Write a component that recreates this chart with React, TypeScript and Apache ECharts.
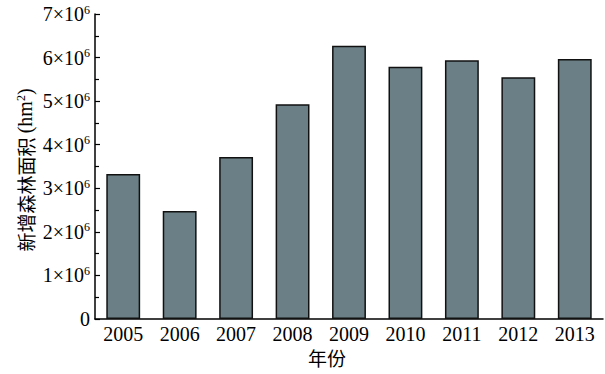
import React, { useEffect, useRef } from "react";
import * as echarts from "echarts";

const years = ["2005", "2006", "2007", "2008", "2009", "2010", "2011", "2012", "2013"];
const forestArea = [3.33e6, 2.48e6, 3.72e6, 4.93e6, 6.27e6, 5.79e6, 5.94e6, 5.55e6, 5.97e6];
const yAxisTitleCn = "新增森林面积";
const yAxisTitleUnit = "(hm";
const xAxisTitle = "年份";

export default function App() {
  const ref = useRef<HTMLDivElement>(null);
  useEffect(() => {
    if (!ref.current) return;
    const chart = echarts.init(ref.current, null, { renderer: "svg" });
    const serif = "'Liberation Serif', 'DejaVu Serif', serif";
    const cjk = "'Noto Sans CJK SC', sans-serif";
    chart.setOption({
      animation: false,
      backgroundColor: "#ffffff",
      grid: { left: 95, right: 2, top: 14, bottom: 55, containLabel: false },
      xAxis: {
        type: "category",
        data: years,
        axisLine: { show: true, lineStyle: { color: "#000", width: 1.5 } },
        axisTick: { show: false },
        axisLabel: { color: "#000", fontFamily: serif, fontSize: 20, margin: 5 },
        splitLine: { show: false },
      },
      yAxis: {
        type: "value",
        min: 0,
        max: 7e6,
        interval: 1e6,
        axisLine: { show: true, lineStyle: { color: "#000", width: 1.5 } },
        axisTick: { show: true, inside: true, length: 5, lineStyle: { color: "#000", width: 1.2 } },
        minorTick: { show: true, splitNumber: 2, length: 4, lineStyle: { color: "#000", width: 1.2 } },
        splitLine: { show: false },
        axisLabel: {
          margin: 5,
          color: "#000",
          fontFamily: serif,
          formatter: (v: number) => {
            if (v === 0) return "{a|0}";
            return "{a|" + Math.round(v / 1e6) + "×10}{s|6}";
          },
          rich: {
            a: { fontFamily: serif, fontSize: 20, color: "#000" },
            s: { fontFamily: serif, fontSize: 12, color: "#000", padding: [0, 0, 9, 0] },
          },
        },
      },
      series: [
        {
          type: "bar",
          data: forestArea,
          barCategoryGap: "40%",
          itemStyle: { color: "#6b8086", borderColor: "#111", borderWidth: 1.5 },
        },
      ],
      graphic: [
        {
          type: "text",
          x: 25,
          y: 170,
          rotation: Math.PI / 2,
          style: {
            text: "{c|" + yAxisTitleCn + " }{u|" + yAxisTitleUnit + "}{s|2}{u|)}",
            fill: "#000",
            align: "center",
            verticalAlign: "middle",
            rich: {
              c: { fontFamily: cjk, fontSize: 19, fill: "#000" },
              u: { fontFamily: serif, fontSize: 20, fill: "#000" },
              s: { fontFamily: serif, fontSize: 12, fill: "#000", padding: [0, 0, 9, 0] },
            },
          },
        },
        {
          type: "text",
          x: 327,
          y: 357,
          style: {
            text: xAxisTitle,
            font: "19px " + cjk,
            fill: "#000",
            align: "center",
            verticalAlign: "middle",
          },
        },
      ],
    });
    return () => chart.dispose();
  }, []);
  return <div ref={ref} style={{ width: 605, height: 374, position: "absolute", left: 0, top: 0 }} />;
}
